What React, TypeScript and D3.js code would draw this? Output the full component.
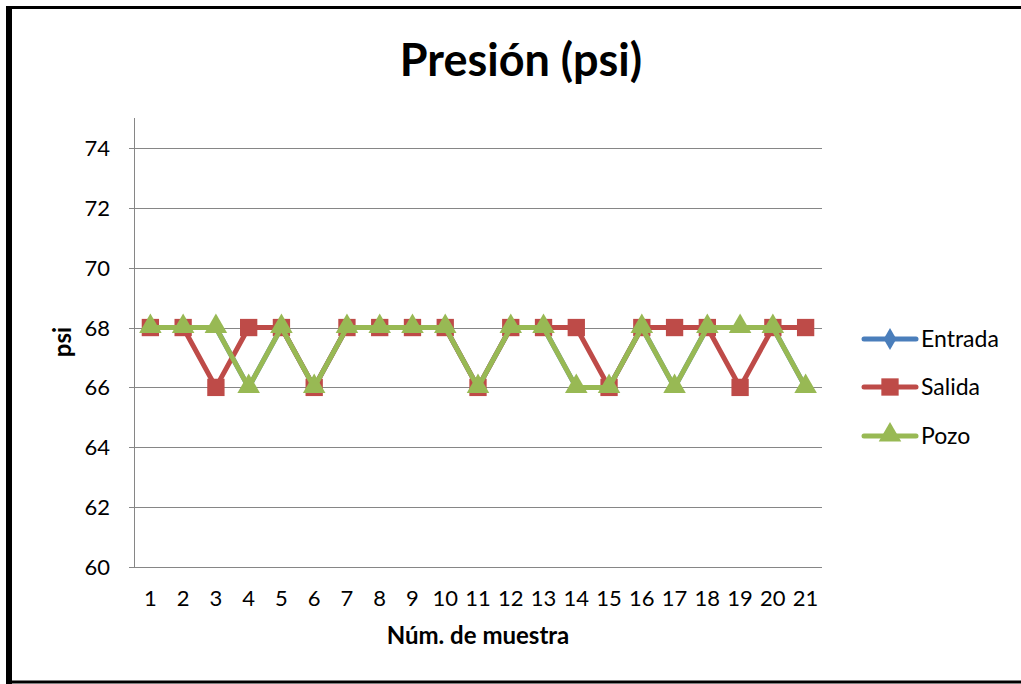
import React from "react";
import * as d3 from "d3";

const categories = ["1","2","3","4","5","6","7","8","9","10","11","12","13","14","15","16","17","18","19","20","21"];
const entrada = [68,68,68,66,68,66,68,68,68,68,66,68,68,66,66,68,66,68,68,68,66];
const salida = [68,68,66,68,68,66,68,68,68,68,66,68,68,68,66,68,68,68,66,68,68];
const pozo = [68,68,68,66,68,66,68,68,68,68,66,68,68,66,66,68,66,68,68,68,66];
const yTicks = [60,62,64,66,68,70,72,74];
const seriesNames = ["Entrada","Salida","Pozo"];
const seriesColors = ["#4A7EBB","#BE4B48","#98B954"];

const W = 1021, H = 684;
const plot = { left: 134, right: 822, top: 118, bottom: 567 };
const FONT = "Lato, 'Open Sans', sans-serif";

export default function App() {
  const x = d3.scaleBand().domain(categories).range([plot.left, plot.right]);
  const y = d3.scaleLinear().domain([60, 75]).range([plot.bottom, plot.top]);
  const cx = (c: string) => (x(c) as number) + x.bandwidth() / 2;
  const line = d3.line<number>().x((_, i) => cx(categories[i])).y(d => y(d));
  const data = [entrada, salida, pozo];
  const diamond = d3.symbol().type(d3.symbolDiamond).size(140);
  const square = d3.symbol().type(d3.symbolSquare).size(300);
  const tri = d3.symbol().type(d3.symbolTriangle).size(220);
  const marker = (k: number, px: number, py: number, key: string, legend = false) => {
    const gen = k === 0 ? diamond : k === 1 ? square : tri;
    const dy = k === 0 && !legend ? -2 : k === 2 ? -1 : 0;
    return <path key={key} d={gen() as string} transform={`translate(${px},${py + dy})${k === 0 && !legend ? " scale(0.5)" : ""}`} fill={seriesColors[k]} />;
  };
  const legendY = [339, 387, 436];
  return (
    <svg width={W} height={H} style={{ position: "absolute", left: 0, top: 0, background: "#fff" }}>
      <rect x={0} y={0} width={W} height={H} fill="#fff" />
      {/* frame */}
      <line x1={6} x2={W} y1={7.5} y2={7.5} stroke="#000" strokeWidth={3} />
      <line x1={9} x2={9} y1={6} y2={684} stroke="#000" strokeWidth={6} />
      <line x1={6} x2={W} y1={682} y2={682} stroke="#000" strokeWidth={3} />
      {/* title */}
      <text x={521} y={76} textAnchor="middle" fontFamily={FONT} fontWeight="bold" fontSize={45}>Presión (psi)</text>
      {/* gridlines */}
      {yTicks.filter(t => t > 60).map(t => (
        <line key={t} x1={plot.left} x2={plot.right} y1={Math.round(y(t)) + 0.5} y2={Math.round(y(t)) + 0.5} stroke="#868686" strokeWidth={1} />
      ))}
      {/* axes */}
      <line x1={plot.left + 0.5} x2={plot.left + 0.5} y1={plot.top} y2={plot.bottom} stroke="#868686" />
      <line x1={plot.left} x2={plot.right} y1={plot.bottom + 0.5} y2={plot.bottom + 0.5} stroke="#868686" />
      {yTicks.map(t => (
        <g key={t}>
          <line x1={plot.left - 5} x2={plot.left} y1={Math.round(y(t)) + 0.5} y2={Math.round(y(t)) + 0.5} stroke="#868686" />
          <text x={110} y={y(t) + 8} textAnchor="end" fontFamily={FONT} fontSize={22}>{t}</text>
        </g>
      ))}
      {categories.map(c => (
        <text key={c} x={cx(c)} y={606} textAnchor="middle" fontFamily={FONT} fontSize={22}>{c}</text>
      ))}
      <text transform={`translate(71,342) rotate(-90)`} textAnchor="middle" fontFamily={FONT} fontWeight="bold" fontSize={24}>psi</text>
      <text x={478} y={644} textAnchor="middle" fontFamily={FONT} fontWeight="bold" fontSize={24}>Núm. de muestra</text>
      {/* series */}
      {data.map((s, k) => (
        <g key={k}>
          <path d={line(s) as string} fill="none" stroke={seriesColors[k]} strokeWidth={5} strokeLinejoin="round" strokeLinecap="round" />
          {s.map((v, i) => marker(k, cx(categories[i]), y(v), `${k}-${i}`))}
        </g>
      ))}
      {/* legend */}
      {seriesNames.map((n, k) => (
        <g key={n}>
          <line x1={864} x2={916} y1={legendY[k]} y2={legendY[k]} stroke={seriesColors[k]} strokeWidth={5} strokeLinecap="round" />
          {marker(k, 890, legendY[k], `lg${k}`, true)}
          <text x={921} y={legendY[k] + 8} fontFamily={FONT} fontSize={23}>{n}</text>
        </g>
      ))}
    </svg>
  );
}
